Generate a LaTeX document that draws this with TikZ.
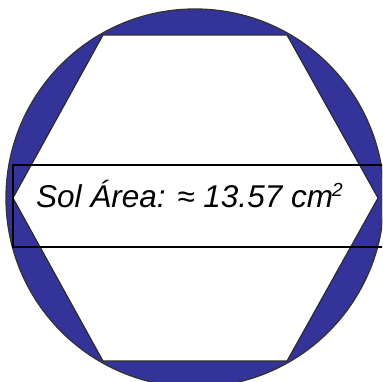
\documentclass[tikz,border=0pt]{standalone}
\usepackage{fontspec}
\setmainfont{Liberation Sans}
\begin{document}
\begin{tikzpicture}[x=1pt,y=-1pt,
  ring/.style={fill=ringblue,draw=black!80,line width=1.3pt},
  hexa/.style={fill=white,draw=black!85,line width=1.1pt,line join=miter},
  band/.style={draw=black,line width=1.1pt},
  lbl/.style={font=\itshape\fontsize{31.5}{32}\selectfont,inner sep=0pt,anchor=base west}]
\definecolor{ringblue}{HTML}{333399}
\useasboundingbox (0,0) rectangle (382,382);
\begin{scope}
\clip (0,0) rectangle (382,382);
\coordinate (c) at (195,198);
\fill[ringblue] (c) circle (189);
\draw[ring] (c) circle (189);
\draw[hexa] (13,198) -- (103,35) -- (287,35) -- (378,198) -- (287,361) -- (103,361) -- cycle;
\draw[band] (13,165) rectangle (392,247);
\end{scope}
\node[lbl] (t) at (36,207) {Sol Área: ≈ 13.57 cm\kern-1pt\raisebox{11pt}{\fontsize{19}{19}\selectfont 2}};
\end{tikzpicture}
\end{document}
